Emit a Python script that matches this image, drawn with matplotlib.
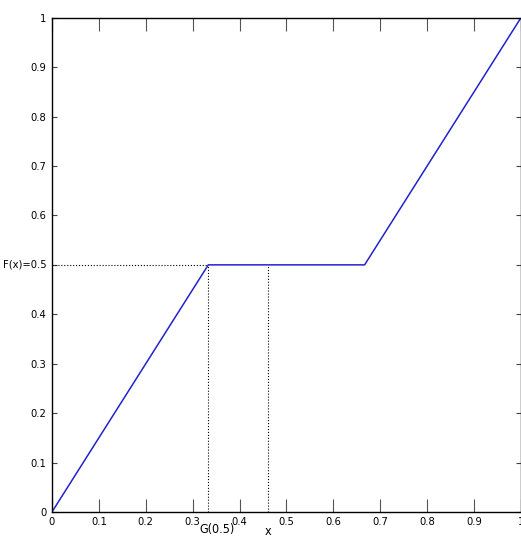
import numpy as np
import matplotlib
matplotlib.use('Agg')
import matplotlib.pyplot as plt

# piecewise-linear CDF F(x)
xs = [0.0, 1/3, 2/3, 1.0]
fs = [0.0, 0.5, 0.5, 1.0]

g_half = 1/3      # G(0.5)
x_pt = 0.46       # chosen x on the flat part
level = 0.5

ticks = [0, 0.1, 0.2, 0.3, 0.4, 0.5, 0.6, 0.7, 0.8, 0.9, 1]
xtick_labels = ['0', '0.1', '0.2', '0.3', '0.4', '0.5', '0.6', '0.7', '0.8', '0.9', '1']
ytick_labels = ['0', '0.1', '0.2', '0.3', '0.4', '', '0.6', '0.7', '0.8', '0.9', '1']

plt.rcParams['font.family'] = ['DejaVu Sans Condensed', 'Liberation Sans Narrow', 'DejaVu Sans']
plt.rcParams['font.stretch'] = 'condensed'

fig = plt.figure(figsize=(5.21, 5.40), dpi=100)
ax = fig.add_axes([0.0998, 0.052, 0.900, 0.915])

ax.plot(xs, fs, color='#2222cc', linewidth=1.1)
ax.plot([0, g_half], [level, level], color='black', linestyle=':', linewidth=0.8)
ax.plot([g_half, g_half], [0, level], color='black', linestyle=':', linewidth=0.8)
ax.plot([x_pt, x_pt], [0, level], color='black', linestyle=':', linewidth=0.8)

ax.set_xlim(0, 1)
ax.set_ylim(0, 1)
ax.set_xticks(ticks)
ax.set_xticklabels(xtick_labels)
ax.set_yticks(ticks)
ax.set_yticklabels(ytick_labels)
ax.tick_params(axis='x', direction='in', length=9.5, width=0.8, top=True,
               labelsize=8, pad=4, colors='#555555', labelcolor='black')
ax.tick_params(axis='y', direction='in', length=3.8, width=0.8, right=True,
               labelsize=8, pad=4, colors='#444444', labelcolor='black')
for s in ax.spines.values():
    s.set_linewidth(1.0)

# annotation labels
ax.text(-0.012, level, 'F(x)=0.5', ha='right', va='center', fontsize=8)
ax.text(0.315, -0.022, 'G(0.5)', ha='left', va='top', fontsize=9)
ax.text(x_pt, -0.026, 'x', ha='center', va='top', fontsize=9)

fig.savefig('out.png', dpi=100)
